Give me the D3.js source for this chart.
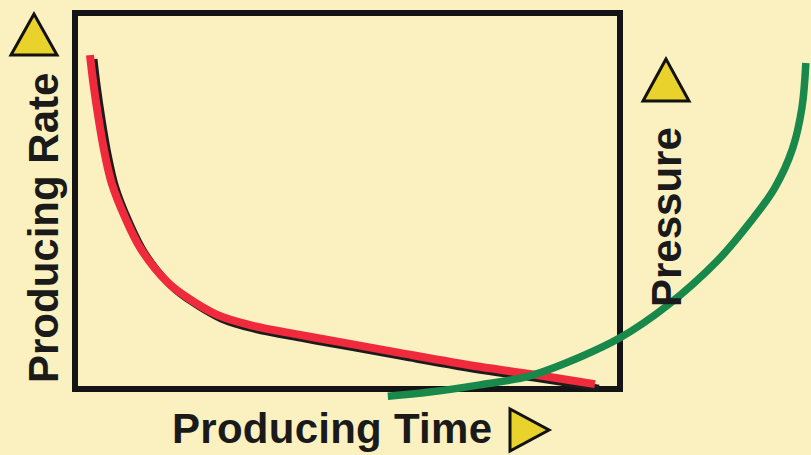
<!doctype html>
<html lang='en'>
<head>
    <meta charset='UTF-8'>
    <title>Producing Rate vs Pressure</title>
    <style>
        body,html{
            margin: 0;
            padding: 0;
            background: #fbf1c0;
        }
        #chart{
            display: block;
            background-color: #fbf1c0;
        }
        .label{
            font-family: 'Liberation Sans', Arial, sans-serif;
            font-weight: bold;
            font-size: 42px;
            fill: #1a1a1a;
        }
        .marker{
            fill: #e9d22c;
            stroke: #111;
            stroke-width: 3;
            stroke-linejoin: miter;
        }
    </style>
</head>
<body>
<script src='https://d3js.org/d3.v7.min.js'></script>
<script>
  // producing rate curve (red), time in % of plot width
  const rateTime = [2.75, 3.36, 4.28, 5.32, 6.73, 9.17, 12.2, 17.1, 20.2, 26.1, 32.1, 41.3, 50.5, 59.6, 74.3, 83.5, 95.4]
  const rateValue = [88.8, 81.4, 72.3, 63.6, 54.8, 45.7, 37.0, 28.2, 24.7, 19.7, 17.0, 14.4, 12.0, 9.6, 5.9, 4.0, 1.3]

  // pressure curve (green), runs past the right edge of the frame
  const pressureTime = [57.4, 65.1, 74.3, 83.5, 92.7, 100, 108.6, 117.8, 123.9, 128.4, 131.7, 133.4, 134.1]
  const pressureValue = [-1.9, -0.8, 1.1, 3.5, 8.5, 13.6, 22.1, 34.0, 44.4, 53.5, 64.1, 75.0, 86.7]

  const labels = {rate: 'Producing Rate', pressure: 'Pressure', time: 'Producing Time'}

  const w = 811
  const h = 455
  const margin = {top: 13, bottom: 66, left: 75, right: 191}

  const x = d3.scaleLinear()
    .domain([0, 100])
    .range([margin.left, w - margin.right])

  const y = d3.scaleLinear()
    .domain([0, 100])
    .range([h - margin.bottom, margin.top])

  const svg = d3.select('body').append('svg')
    .attr('id', 'chart')
    .attr('width', w)
    .attr('height', h)

  // frame
  svg.append('rect')
    .attr('x', x(0))
    .attr('y', y(100))
    .attr('width', x(100) - x(0))
    .attr('height', y(0) - y(100))
    .attr('fill', 'none')
    .attr('stroke', '#141414')
    .attr('stroke-width', 6)

  const line = d3.line()
    .x(d => x(d[0]))
    .y(d => y(d[1]))
    .curve(d3.curveCatmullRom.alpha(0.5))

  const rateData = d3.zip(rateTime, rateValue)
  const pressureData = d3.zip(pressureTime, pressureValue)

  // black shadow under the red rate line
  svg.append('path')
    .datum(rateData)
    .attr('d', line)
    .attr('transform', 'translate(4,4)')
    .attr('fill', 'none')
    .attr('stroke', '#1c1c1c')
    .attr('stroke-width', 7)

  svg.append('path')
    .datum(rateData)
    .attr('d', line)
    .attr('fill', 'none')
    .attr('stroke', '#ef2a3c')
    .attr('stroke-width', 8)

  svg.append('path')
    .datum(pressureData)
    .attr('d', line)
    .attr('fill', 'none')
    .attr('stroke', '#19894b')
    .attr('stroke-width', 7.5)

  /******** labels + triangles ************/

  svg.append('text')
    .classed('label', true)
    .attr('transform', 'translate(58,383) rotate(-90)')
    .text(labels.rate)

  svg.append('text')
    .classed('label', true)
    .attr('transform', 'translate(681,307) rotate(-90)')
    .text(labels.pressure)

  svg.append('text')
    .classed('label', true)
    .attr('x', 172)
    .attr('y', 443)
    .attr('textLength', 320)
    .text(labels.time)

  const tri = [
    [[34, 14], [11, 55], [57, 55]],
    [[666, 59], [643, 101], [689, 101]],
    [[510, 409], [510, 451], [549, 430]]
  ]

  svg.selectAll('.marker')
    .data(tri)
    .enter()
    .append('path')
    .classed('marker', true)
    .attr('d', d => 'M' + d.join('L') + 'Z')
</script>
</body>
</html>
